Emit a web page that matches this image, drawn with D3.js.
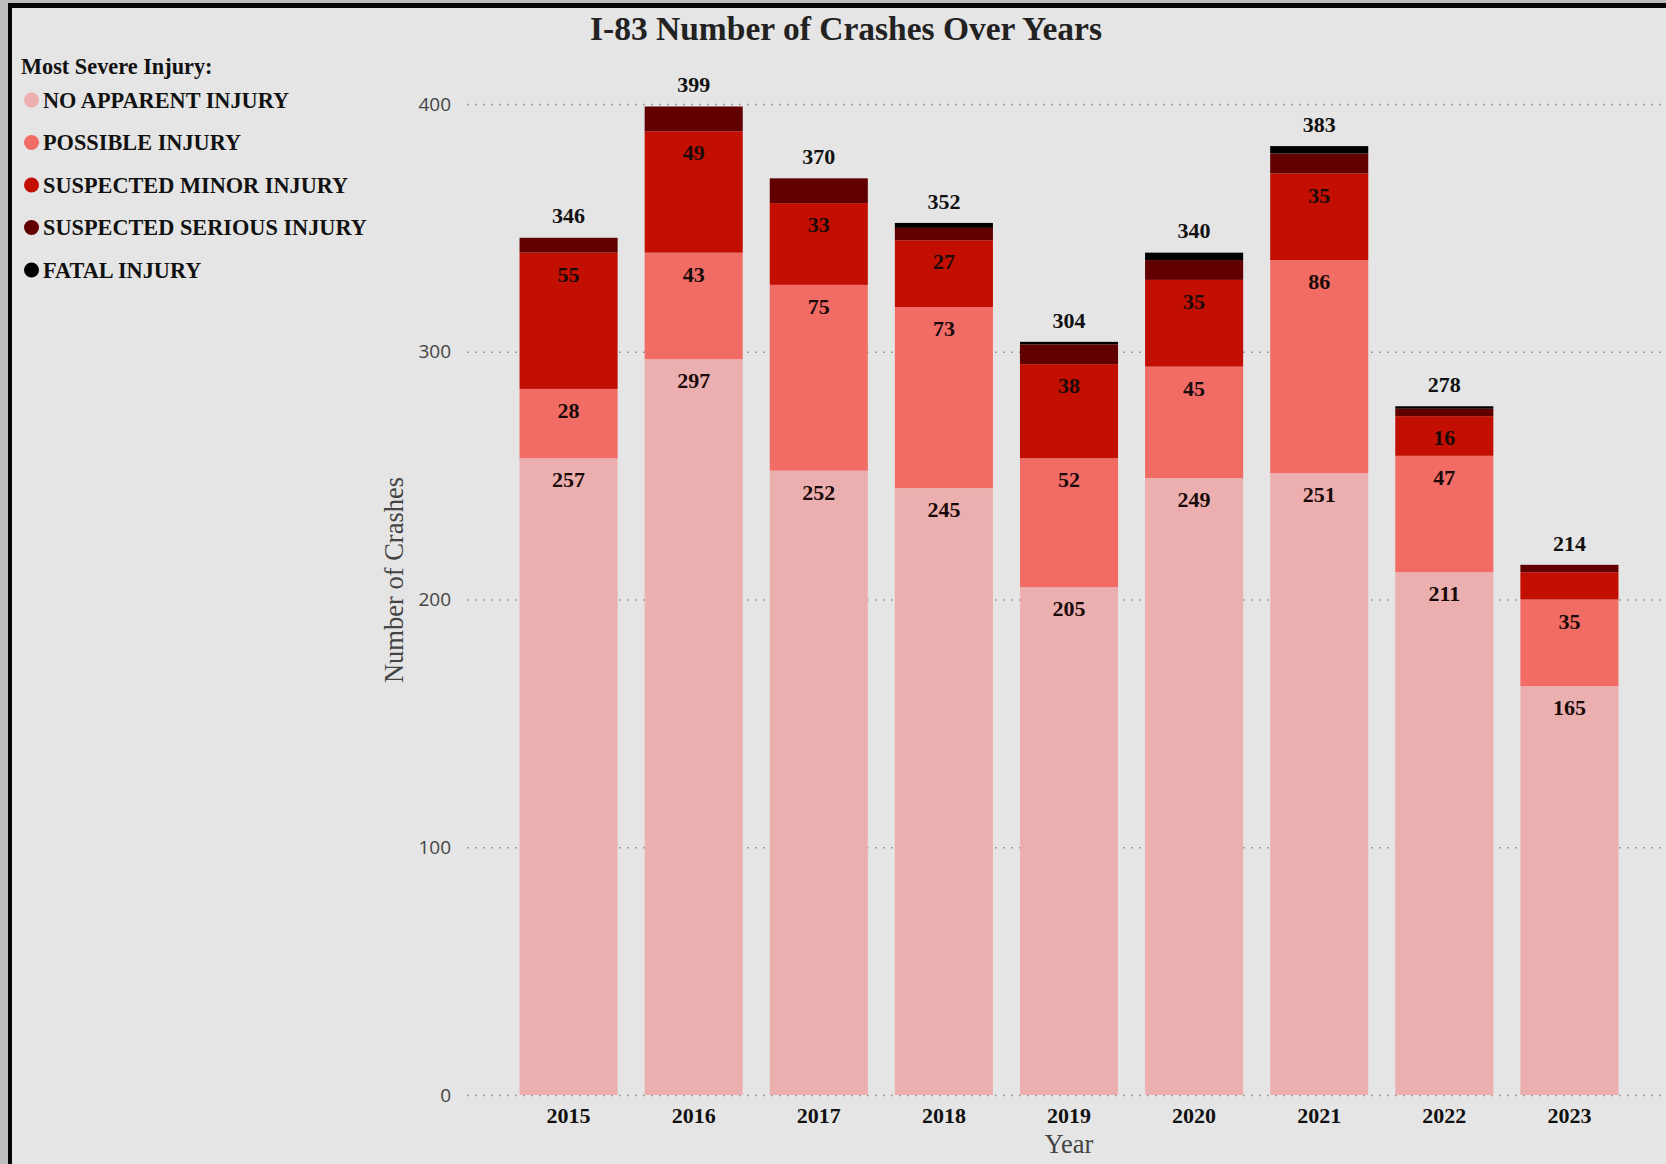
<!DOCTYPE html>
<html>
<head>
<meta charset="utf-8">
<script src="https://cdn.jsdelivr.net/npm/d3@7"></script>
<style>
  html, body { margin: 0; padding: 0; background: #bdbdbd; }
  svg { display: block; }
</style>
</head>
<body>
<svg id="chart" width="1666" height="1164"></svg>
<script>
// Crash counts on I-83 by year, split by most severe injury
const years = ["2015", "2016", "2017", "2018", "2019", "2020", "2021", "2022", "2023"];
const noApparent = [257, 297, 252, 245, 205, 249, 251, 211, 165];
const possible   = [28, 43, 75, 73, 52, 45, 86, 47, 35];
const minor      = [55, 49, 33, 27, 38, 35, 35, 16, 11];
const serious    = [6, 10, 10, 5, 8, 8, 8, 3, 3];
const fatal      = [0, 0, 0, 2, 1, 3, 3, 1, 0];

const severityLabels = ["NO APPARENT INJURY", "POSSIBLE INJURY", "SUSPECTED MINOR INJURY",
                        "SUSPECTED SERIOUS INJURY", "FATAL INJURY"];
const severityColors = ["#ecafaf", "#f26c66", "#c30f02", "#620000", "#000000"];
const yTicks = [0, 100, 200, 300, 400];

const keys = ["none", "possible", "minor", "serious", "fatal"];
const rows = years.map((yr, i) => ({
  year: yr,
  none: noApparent[i], possible: possible[i], minor: minor[i],
  serious: serious[i], fatal: fatal[i]
}));

const W = 1666, H = 1164;
const serif = "'Liberation Serif', 'Times New Roman', serif";
const sans = "'Open Sans', 'Noto Sans', sans-serif";

const svg = d3.select("#chart");

// frame: grey outer edge, black rule, light panel
svg.append("rect").attr("width", W).attr("height", H).attr("fill", "#bdbdbd");
svg.append("rect").attr("x", 8).attr("y", 3).attr("width", W - 8).attr("height", H - 3).attr("fill", "#050505");
svg.append("rect").attr("x", 12).attr("y", 8).attr("width", W - 12).attr("height", H - 8).attr("fill", "#e5e5e5");

const plotLeft = 467, plotRight = 1671, plotTop = 104, plotBottom = 1095;

const x = d3.scaleBand().domain(years).range([plotLeft, plotRight])
  .paddingInner(0.216).paddingOuter(0.42);
const y = d3.scaleLinear().domain([0, 400]).range([plotBottom, plotTop]);
const color = d3.scaleOrdinal().domain(keys).range(severityColors);

// y axis with dotted gridlines
const yAxis = svg.append("g")
  .attr("transform", `translate(${plotLeft},0)`)
  .call(d3.axisLeft(y).tickValues(yTicks).tickSize(-(W - plotLeft)).tickPadding(16));
yAxis.select(".domain").remove();
yAxis.selectAll(".tick line")
  .attr("stroke", "#8a8a8a").attr("stroke-width", 1.5).attr("stroke-dasharray", "1.5,6.5");
yAxis.selectAll(".tick text")
  .attr("font-family", sans).attr("font-size", 19).attr("fill", "#444");

// x axis
const xAxis = svg.append("g")
  .attr("transform", `translate(0,${plotBottom})`)
  .call(d3.axisBottom(x).tickSize(0).tickPadding(12));
xAxis.select(".domain").remove();
xAxis.selectAll(".tick text")
  .attr("font-family", serif).attr("font-size", 22).attr("font-weight", "bold").attr("fill", "#111");

// stacked bars
const series = d3.stack().keys(keys)(rows);
const layers = svg.append("g").selectAll("g").data(series).join("g")
  .attr("fill", d => color(d.key));
layers.selectAll("rect").data(d => d).join("rect")
  .attr("x", d => x(d.data.year))
  .attr("width", x.bandwidth())
  .attr("y", d => y(d[1]))
  .attr("height", d => y(d[0]) - y(d[1]));

// segment value labels (only where the segment is tall enough)
const segLabels = svg.append("g")
  .attr("font-family", serif).attr("font-size", 22).attr("font-weight", "bold")
  .attr("fill", "#1a0a0a").attr("text-anchor", "middle");
series.forEach(s => {
  s.forEach(d => {
    const v = d[1] - d[0];
    if (v >= 15) {
      segLabels.append("text")
        .attr("x", x(d.data.year) + x.bandwidth() / 2)
        .attr("y", y(d[1]) + 21.5)
        .attr("dy", "0.35em")
        .text(v);
    }
  });
});

// totals above each bar
svg.append("g")
  .attr("font-family", serif).attr("font-size", 22).attr("font-weight", "bold")
  .attr("fill", "#111").attr("text-anchor", "middle")
  .selectAll("text").data(rows).join("text")
  .attr("x", d => x(d.year) + x.bandwidth() / 2)
  .attr("y", d => y(d3.sum(keys, k => d[k])) - 22)
  .attr("dy", "0.35em")
  .text(d => d3.sum(keys, k => d[k]));

// title
svg.append("text")
  .attr("x", 846).attr("y", 28).attr("dy", "0.35em")
  .attr("text-anchor", "middle")
  .attr("font-family", serif).attr("font-size", 33.5).attr("font-weight", "bold")
  .attr("fill", "#222")
  .text("I-83 Number of Crashes Over Years");

// axis titles
svg.append("text")
  .attr("transform", `translate(394,580) rotate(-90)`)
  .attr("dy", "0.35em").attr("text-anchor", "middle")
  .attr("font-family", serif).attr("font-size", 26.5).attr("fill", "#444")
  .text("Number of Crashes");
svg.append("text")
  .attr("x", (plotLeft + plotRight) / 2).attr("y", 1144).attr("dy", "0.35em")
  .attr("text-anchor", "middle")
  .attr("font-family", serif).attr("font-size", 26.5).attr("fill", "#444")
  .text("Year");

// legend
const legend = svg.append("g").attr("font-family", serif).attr("font-weight", "bold").attr("fill", "#111");
legend.append("text").attr("x", 21).attr("y", 66).attr("dy", "0.35em")
  .attr("font-size", 22.3).text("Most Severe Injury:");
const items = legend.selectAll("g.item").data(severityLabels).join("g")
  .attr("class", "item")
  .attr("transform", (d, i) => `translate(0,${100 + i * 42.5})`);
items.append("circle").attr("cx", 31.5).attr("cy", 0).attr("r", 7.5)
  .attr("fill", (d, i) => severityColors[i]);
items.append("text").attr("x", 43).attr("dy", "0.35em").attr("font-size", 22.3)
  .text(d => d);
</script>
</body>
</html>
